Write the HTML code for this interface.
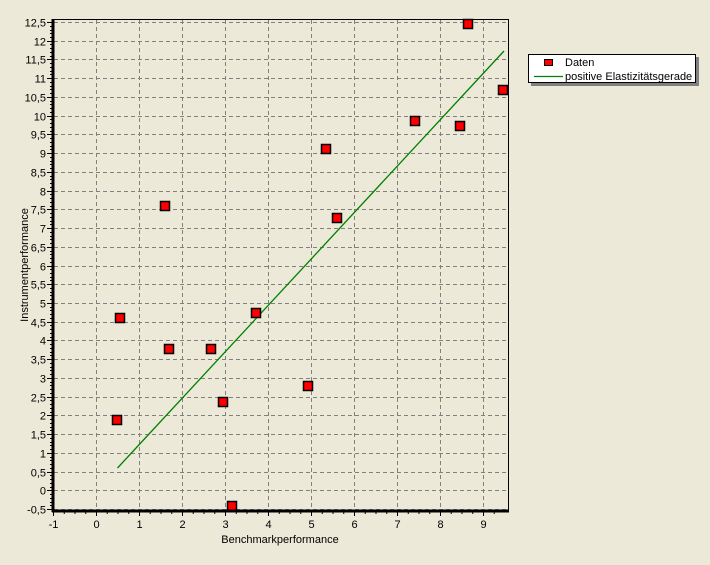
<!DOCTYPE html>
<html><head><meta charset="utf-8"><style>
html,body{margin:0;padding:0;background:#ece9d8;}
svg{display:block;font-family:"Liberation Sans",Arial,sans-serif;}
</style></head><body>
<svg width="710" height="565" viewBox="0 0 710 565" xmlns="http://www.w3.org/2000/svg">
<rect width="710" height="565" fill="#ece9d8"/>
<g id="grid" stroke="#808080" stroke-width="1" stroke-dasharray="4,3" fill="none"></g>
<g id="ticks" stroke="#000" stroke-width="1"></g>
<g id="labels" font-size="11" fill="#000"></g>
<line x1="117.5" y1="468" x2="504" y2="51" stroke="#008000" stroke-width="1.3"/>
<g id="pts"></g>
<rect x="53.5" y="19.5" width="455" height="491" fill="none" stroke="#000" stroke-width="1"/>
<line x1="53" y1="19" x2="53" y2="512" stroke="#000" stroke-width="3"/>
<line x1="52" y1="511" x2="509" y2="511" stroke="#000" stroke-width="3"/>
<text x="280" y="543" font-size="11" text-anchor="middle">Benchmarkperformance</text>
<text x="0" y="0" font-size="11" text-anchor="middle" transform="translate(28,265) rotate(-90)">Instrumentperformance</text>
<rect x="531" y="57" width="168" height="29" fill="#808080"/>
<rect x="528.5" y="54.5" width="167" height="28" fill="#fff" stroke="#000"/>
<rect x="544.5" y="59.5" width="8" height="6" fill="#ff0000" stroke="#000"/>
<text x="565" y="66" font-size="11">Daten</text>
<line x1="534" y1="76.5" x2="563" y2="76.5" stroke="#008000" stroke-width="1.3"/>
<text x="565" y="80" font-size="11">positive Elastizitätsgerade</text>
</svg>
<script>
var ns="http://www.w3.org/2000/svg";
function el(p,t,a,txt){var e=document.createElementNS(ns,t);for(var k in a)e.setAttribute(k,a[k]);if(txt!=null)e.textContent=txt;document.getElementById(p).appendChild(e);}
var X=function(v){return 53+(v+1)*43;},Y=function(v){return 509-(v+0.5)*37.46;};
for(var i=0;i<=10;i++){var x=X(i-1)+0.5;if(i>0)el("grid","line",{x1:x,y1:20,x2:x,y2:510});
el("ticks","line",{x1:x,y1:511,x2:x,y2:516});el("labels","text",{x:x,y:528,"text-anchor":"middle"},String(i-1));}
for(var j=0;j<4*10.5;j++){var x=X(-1+j*0.25)+0.5;el("ticks","line",{x1:x,y1:511,x2:x,y2:514});}
for(var i=0;i<=26;i++){var v=-0.5+i*0.5,y=Math.round(Y(v))+0.5;el("grid","line",{x1:54,y1:y,x2:508,y2:y});
el("ticks","line",{x1:47,y1:y,x2:53,y2:y});el("labels","text",{x:46,y:y+4,"text-anchor":"end"},String(v).replace(".",","));}
for(var j=0;j<=130;j++){var y=Math.round(509-j*3.746)+0.5;el("ticks","line",{x1:50,y1:y,x2:53,y2:y});}
var P=[[468,24],[503,90],[415,121],[460,126],[326,149],[165,206],[337,218],[120,318],[256,313],[169,349],[211,349],[223,402],[308,386],[117,420],[232,506]];
P.forEach(function(p){el("pts","rect",{x:p[0]-4.5,y:p[1]-4.5,width:9,height:9,fill:"#ff0000",stroke:"#000","stroke-width":1.5});});
</script>
</body></html>
